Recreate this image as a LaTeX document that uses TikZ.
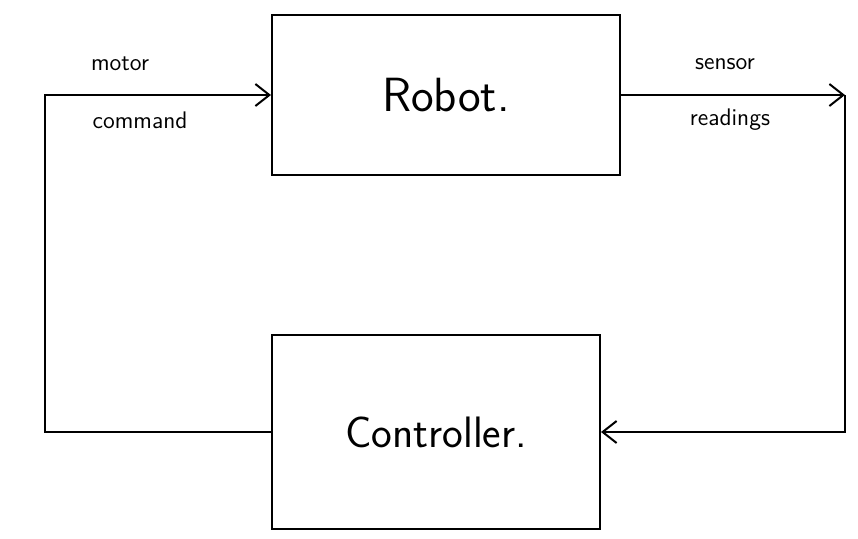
\documentclass[tikz,border=0pt]{standalone}
\usetikzlibrary{positioning,arrows.meta}
\begin{document}
\begin{tikzpicture}[x=0.5pt,y=-0.5pt,
    block/.style={draw,line width=1pt,inner sep=0pt,font=\sffamily},
    flow/.style={line width=1pt,-{Straight Barb[length=7pt,width=11pt,line width=1pt]}},
    lbl/.style={font=\sffamily\fontsize{12}{14}\selectfont}]
    \useasboundingbox (0,0) rectangle (858,538);
          \node[block,minimum width=174pt,minimum height=80pt,font=\sffamily\fontsize{24}{28}\selectfont] (robot) at (446,95) {Robot.};
          \node[block,minimum width=164pt,minimum height=97pt,font=\sffamily\fontsize{22}{26}\selectfont] (controller) at (436,432) {Controller.};
          \coordinate (leftx) at (45,0);
          \coordinate (rightx) at (845,0);
          \draw[flow] (controller.west) -- (controller.west -| leftx) |- (robot.west);
          \draw[flow] (robot.east) -- (robot.east -| rightx) coordinate (sensend);
          \draw[flow] (sensend) |- (controller.east);
          \node[lbl] (motor) at (120,64) {motor};
          \node[lbl] (command) at (140,120) {command};
          \node[lbl] (sensor) at (725,64) {sensor};
          \node[lbl] (readings) at (730,120) {readings};
        \end{tikzpicture}
\end{document}
